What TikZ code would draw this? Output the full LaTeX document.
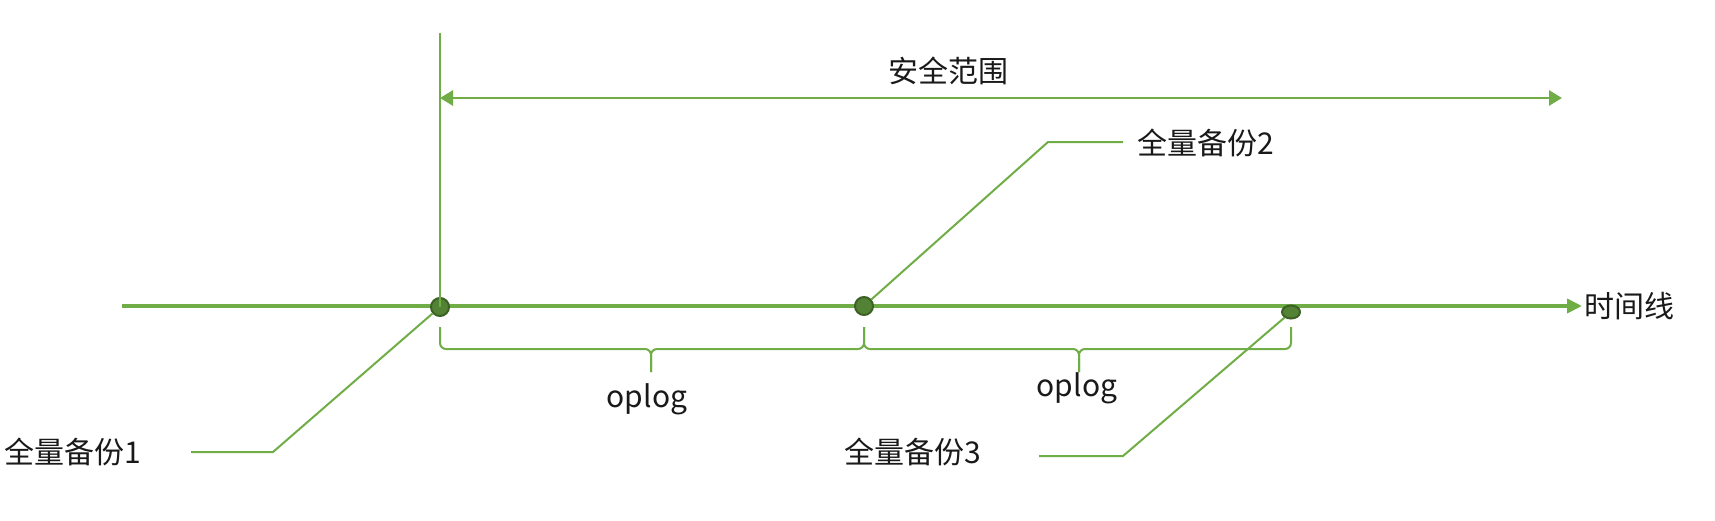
\documentclass[tikz,border=0pt]{standalone}
\usepackage{fontspec}
\setmainfont{Noto Sans CJK SC}
\usetikzlibrary{arrows.meta, calc, shapes.geometric}
\definecolor{lineGreen}{HTML}{70AD47}
\definecolor{dotGreen}{HTML}{548235}
\definecolor{dotEdge}{HTML}{3B6125}

\begin{document}
\begin{tikzpicture}[x=0.5pt, y=-0.5pt,
        every node/.style={font=\fontsize{15}{18}\selectfont, text=black!90},
        dot/.style={draw=dotEdge, fill=dotGreen, line width=1pt, circle, inner sep=0pt, minimum size=9pt},
        timeaxis/.style={draw=lineGreen, line width=2pt, -{Triangle[length=7.5pt, width=7pt, fill=lineGreen]}},
        span/.style={draw=lineGreen, line width=1.4pt, {Triangle[length=6.5pt, width=7.5pt]}-{Triangle[length=6.5pt, width=7.5pt]}},
        leader/.style={draw=lineGreen, line width=1pt},
        brace/.style={draw=lineGreen, line width=1pt, rounded corners=3pt}
    ]
    \useasboundingbox (0,0) rectangle (1715,520);

    % Timeline
    \coordinate (Start) at (122,306);
    \coordinate (End) at (1582,306);
    \draw [timeaxis] (Start) -- (End);
    \node (Axis) [right, inner sep=1pt] at (End) {时间线};

    % Backups on the timeline
    \node (Full1) [dot] at (440,307) {};
    \node (Full2) [dot] at (864,306) {};
    \node (Full3) [dot, ellipse, minimum width=9pt, minimum height=6.5pt] at (1291,312) {};

    % Safe range
    \draw [leader] (Full1 |- 0,33) -- (Full1.center);
    \draw [span] (Full1 |- 0,98) -- (1562,98) coordinate (Safe_end);
    \node (Safe) at (948,71) {安全范围};

    % Braces
    \coordinate (Tip1) at (651,349);
    \coordinate (Tip2) at (1079,349);
    \draw [brace] (Full1 |- 0,327) |- (Tip1) -- ++(0,23);
    \draw [brace] (Full2 |- 0,327) |- (Tip1) -- ++(0,23);
    \draw [brace] (Full2 |- 0,327) |- (Tip2) -- ++(0,23);
    \draw [brace] (Full3 |- 0,327) |- (Tip2) -- ++(0,23);
    \node (Log1) at (647,399) {oplog};
    \node (Log2) at (1077,388) {oplog};

    % Labels
    \node (Label1) at (73,452) {全量备份1};
    \node (Label2) at (1206,143) {全量备份2};
    \node (Label3) at (913,452) {全量备份3};
    \coordinate (Bend1) at (273,452);
    \coordinate (Bend2) at (1048,142);
    \coordinate (Bend3) at (1123,456);
    \draw [leader] (191,452) coordinate (Free1) -- (Bend1) -- (Full1);
    \draw [leader] (1123,142) coordinate (Free2) -- (Bend2) -- (Full2);
    \draw [leader] (1039,456) coordinate (Free3) -- (Bend3) -- (Full3);

    \end{tikzpicture}
\end{document}
